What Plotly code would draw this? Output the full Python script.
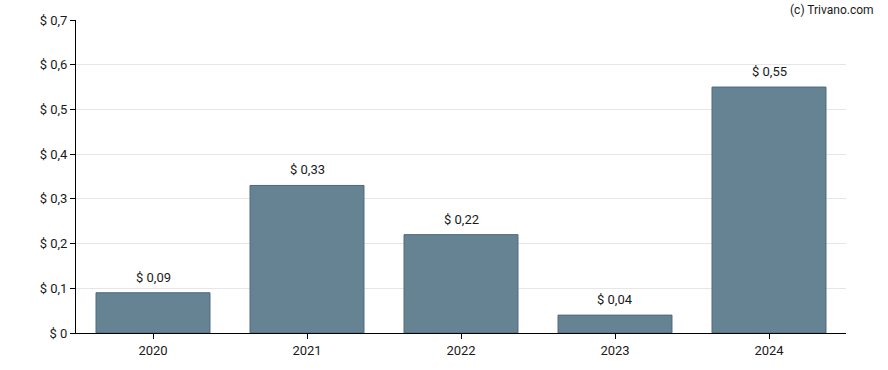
import plotly.graph_objects as go

years = ["2020", "2021", "2022", "2023", "2024"]
values = [0.09, 0.33, 0.22, 0.04, 0.55]
value_labels = ["$ 0,09", "$ 0,33", "$ 0,22", "$ 0,04", "$ 0,55"]
y_ticks = [0, 0.1, 0.2, 0.3, 0.4, 0.5, 0.6, 0.7]
y_tick_labels = ["$ 0", "$ 0,1", "$ 0,2", "$ 0,3", "$ 0,4", "$ 0,5", "$ 0,6", "$ 0,7"]

fig = go.Figure()
fig.add_trace(go.Bar(
    x=years, y=values,
    marker=dict(color="#668394", line=dict(color="#4d687c", width=1)),
    hoverinfo="skip",
))

for i, (v, t) in enumerate(zip(values, value_labels)):
    fig.add_annotation(x=i, y=v, xref="x", yref="y", text=t, showarrow=False,
                       yanchor="bottom", yshift=6,
                       font=dict(family="Roboto", size=13, color="#1a1a1a"))

fig.add_annotation(xref="paper", yref="paper", x=1.039, y=1.0, xanchor="right",
                   yanchor="bottom", yshift=1, text="(c) Trivano.com", showarrow=False,
                   font=dict(family="Roboto", size=12, color="#1a1a1a"))

fig.update_layout(
    width=888, height=370,
    margin=dict(l=76, r=42, t=20, b=34),
    paper_bgcolor="white", plot_bgcolor="white",
    showlegend=False,
    bargap=0.26,
    font=dict(family="Roboto", size=13, color="#1a1a1a"),
    xaxis=dict(type="category", showline=True, linecolor="black", linewidth=1,
               ticks="outside", ticklen=5, tickcolor="black", showgrid=False),
    yaxis=dict(range=[0, 0.7], tickvals=y_ticks, ticktext=y_tick_labels,
               showline=True, linecolor="black", linewidth=1, ticks="outside",
               ticklen=5, tickcolor="black", showgrid=True, gridcolor="#e6e6e6",
               zeroline=False),
)

fig.write_html("out.html", config={"displayModeBar": False},
               post_script="document.body.style.margin='0';")
